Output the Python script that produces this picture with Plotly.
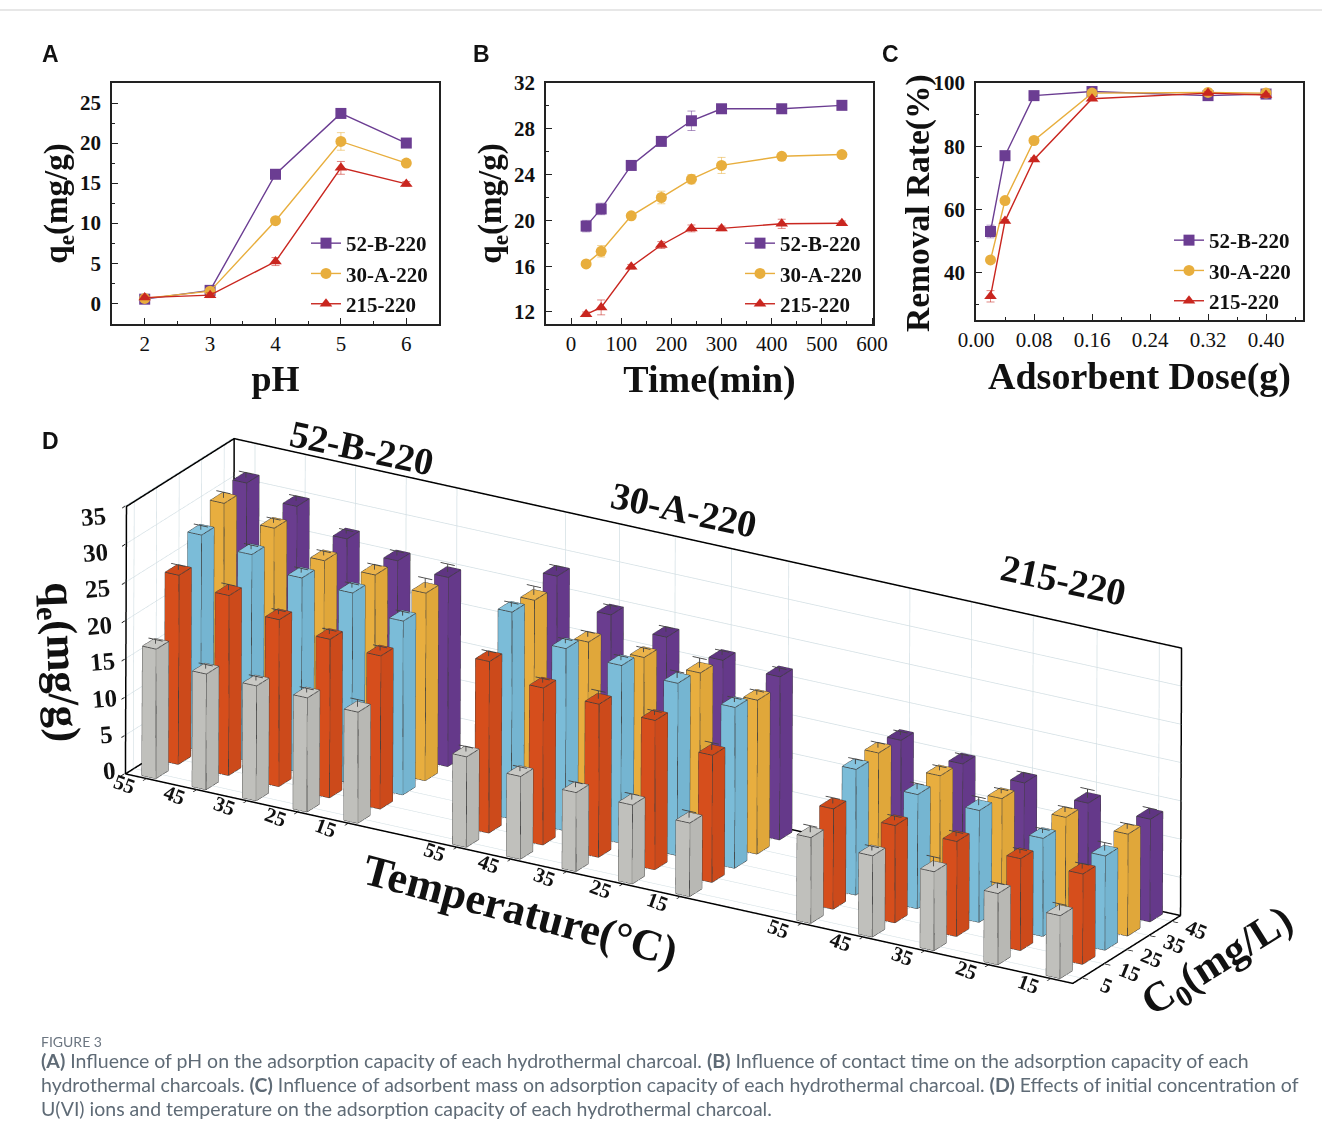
import numpy as np
import plotly.graph_objects as go

W, H = 1322, 1139
SERIF = "Liberation Serif"
SANS = "Liberation Sans"
CAPTION = "Lato"

series_names = ["52-B-220", "30-A-220", "215-220"]
series_colors = ["#6b3d92", "#e8ae3d", "#c9261f"]
series_err_colors = ["rgba(107,61,146,0.55)", "rgba(232,174,61,0.55)", "rgba(201,38,31,0.55)"]
series_symbols = ["square", "circle", "triangle-up"]

ph = [2, 3, 4, 5, 6]
a_52b = [0.5, 1.6, 16.1, 23.7, 20.0]
a_30a = [0.6, 1.5, 10.3, 20.2, 17.5]
a_215 = [0.7, 1.0, 5.2, 16.9, 14.9]
a_52b_err = [0.3, 0.2, 0.3, 0.3, 0.2]
a_30a_err = [0.2, 0.3, 0.3, 1.1, 0.2]
a_215_err = [0.2, 0.3, 0.5, 0.8, 0.3]

time_min = [30, 60, 120, 180, 240, 300, 420, 540]
b_52b = [19.5, 21.0, 24.8, 26.9, 28.7, 29.75, 29.75, 30.05]
b_30a = [16.2, 17.3, 20.4, 22.0, 23.6, 24.8, 25.6, 25.75]
b_215 = [11.8, 12.4, 15.95, 17.85, 19.3, 19.3, 19.7, 19.75]
b_52b_err = [0.5, 0.5, 0.2, 0.3, 0.85, 0.2, 0.2, 0.2]
b_30a_err = [0.2, 0.5, 0.2, 0.55, 0.4, 0.7, 0.2, 0.2]
b_215_err = [0.2, 0.65, 0.2, 0.3, 0.3, 0.2, 0.4, 0.2]

dose = [0.02, 0.04, 0.08, 0.16, 0.32, 0.40]
c_52b = [53.0, 77.0, 96.0, 97.3, 96.0, 96.5]
c_30a = [44.0, 62.8, 81.8, 96.8, 97.0, 96.8]
c_215 = [32.5, 56.3, 75.8, 95.0, 96.8, 96.2]
c_52b_err = [2.0, 0.5, 0.5, 0.5, 0.5, 0.5]
c_30a_err = [0.5, 0.5, 0.5, 0.5, 0.5, 0.5]
c_215_err = [1.8, 0.5, 0.5, 0.5, 0.5, 0.5]

temperatures = [55, 45, 35, 25, 15]
concentrations = [5, 15, 25, 35, 45]
conc_colors = ["#c0c0bc", "#d64e1c", "#7bbcd8", "#e8ae3f", "#6a3d8f"]
conc_side = ["#b8b8b4", "#cc4a1b", "#75b5d1", "#e0a73a", "#65398a"]
conc_top = ["#c9c9c5", "#cf4a1a", "#86c4de", "#ebb34a", "#5f3582"]

# rows = concentration, columns = temperature
q_52b = [[16.9, 15.1, 15.0, 14.9, 14.5],
         [24.7, 23.5, 21.8, 20.7, 20.0],
         [28.1, 27.0, 25.4, 24.9, 22.7],
         [30.4, 28.6, 25.8, 25.4, 24.5],
         [31.2, 29.6, 26.8, 25.4, 24.7]]
q_30a = [[11.8, 10.8, 10.3, 10.3, 9.6],
         [22.4, 20.5, 20.0, 19.5, 16.6],
         [27.0, 23.8, 23.2, 22.5, 21.0],
         [26.7, 22.8, 22.4, 22.0, 20.1],
         [28.0, 24.5, 23.2, 21.8, 21.3]]
q_215 = [[11.2, 10.6, 10.3, 9.3, 8.2],
         [13.1, 12.7, 12.4, 12.0, 11.8],
         [16.4, 14.9, 14.6, 12.8, 12.3],
         [16.7, 15.5, 14.3, 13.7, 13.3],
         [16.5, 15.2, 14.5, 13.7, 13.4]]
e_52b = [[.2, .2, .2, .2, .6], [.3, .4, .2, .2, .2], [.2, .2, .2, .2, .2], [.4, .2, .2, .3, .9], [.3, .3, .1, .2, .7]]
e_30a = [[.3, .2, .3, .4, .5], [.3, .2, .7, .2, .6], [.2, .2, .2, .5, .2], [.8, .3, .2, .9, .2], [.3, .2, .3, .2, .1]]
e_215 = [[.5, .2, .9, .3, .5], [.4, .2, .2, .2, .3], [.3, .4, .7, .2, .7], [.3, .2, .2, .3, .3], [.1, .2, .3, .8, .4]]

# position of each temperature slot along the 3D x axis, one row per material
slots_52b = [-0.10, 0.82, 1.74, 2.67, 3.60]
slots_30a = [5.59, 6.58, 7.60, 8.63, 9.68]
slots_215 = [11.90, 13.03, 14.16, 15.33, 16.47]

caption_head = "FIGURE 3"
caption_lines = [
    "<b>(A)</b> Influence of pH on the adsorption capacity of each hydrothermal charcoal. <b>(B)</b> Influence of contact time on the adsorption capacity of each",
    "hydrothermal charcoals. <b>(C)</b> Influence of adsorbent mass on adsorption capacity of each hydrothermal charcoal. <b>(D)</b> Effects of initial concentration of",
    "U(VI) ions and temperature on the adsorption capacity of each hydrothermal charcoal.",
]


def px(x):
    return x / W


def py(y):
    return 1 - y / H


fig = go.Figure()

panels = [
    ("x", "y", "legend", ph, [a_52b, a_30a, a_215], [a_52b_err, a_30a_err, a_215_err]),
    ("x2", "y2", "legend2", time_min, [b_52b, b_30a, b_215], [b_52b_err, b_30a_err, b_215_err]),
    ("x3", "y3", "legend3", dose, [c_52b, c_30a, c_215], [c_52b_err, c_30a_err, c_215_err]),
]
for xa, ya, leg, xs, ys, errs in panels:
    for i, name in enumerate(series_names):
        fig.add_trace(go.Scatter(
            x=xs, y=ys[i], name=name, xaxis=xa, yaxis=ya, legend=leg, mode="lines+markers",
            line=dict(color=series_colors[i], width=1.4),
            marker=dict(color=series_colors[i], symbol=series_symbols[i], size=11),
            error_y=dict(type="data", array=errs[i], color=series_err_colors[i], width=4, thickness=1),
            hoverinfo="skip",
        ))

# ---------- panel D: 3D bars ----------
bar_dx, bar_dy = 0.127, 5.5
x_range = [-0.5, 16.9]
y_range = [1.0, 49.0]
z_range = [0, 35]
groups_slots = [slots_52b, slots_30a, slots_215]
x_ticks = [s for row in groups_slots for s in row]
groups_q = [q_52b, q_30a, q_215]
groups_e = [e_52b, e_30a, e_215]

edge_x, edge_y, edge_z = [], [], []
err_x, err_y, err_z = [], [], []


def seg(ax, ay, az, p, q):
    ax += [p[0], q[0], None]
    ay += [p[1], q[1], None]
    az += [p[2], q[2], None]


for ci, conc in enumerate(concentrations):
    vx, vy, vz, fi, fj, fk, fc = [], [], [], [], [], [], []
    for g, slots in enumerate(groups_slots):
        for t in range(5):
            h = groups_q[g][ci][t]
            e = groups_e[g][ci][t]
            xc = slots[t]
            x1, x2 = xc - bar_dx, xc + bar_dx
            y1, y2 = conc - bar_dy / 2, conc + bar_dy / 2
            n = len(vx)
            vx += [x1, x2, x2, x1, x1, x2, x2, x1]
            vy += [y1, y1, y2, y2, y1, y1, y2, y2]
            vz += [0, 0, 0, 0, h, h, h, h]
            quads = [((0, 1, 5, 4), conc_colors[ci]), ((1, 2, 6, 5), conc_side[ci]),
                     ((4, 5, 6, 7), conc_top[ci]), ((0, 3, 7, 4), conc_colors[ci]),
                     ((3, 2, 6, 7), conc_colors[ci])]
            for (a, b, c, d), col in quads:
                fi += [n + a, n + a]
                fj += [n + b, n + c]
                fk += [n + c, n + d]
                fc += [col, col]
            pts = [(x1, y1, 0), (x2, y1, 0), (x2, y2, 0), (x1, y2, 0), (x1, y1, h), (x2, y1, h), (x2, y2, h), (x1, y2, h)]
            for a, b in [(0, 1), (1, 2), (4, 5), (5, 6), (6, 7), (7, 4), (0, 4), (1, 5), (2, 6), (3, 7), (2, 3), (3, 0)]:
                seg(edge_x, edge_y, edge_z, pts[a], pts[b])
            seg(err_x, err_y, err_z, (xc, conc, h), (xc, conc, h + e + 0.35))
            seg(err_x, err_y, err_z, (xc - 0.13, conc, h + e + 0.35), (xc + 0.13, conc, h + e + 0.35))
    fig.add_trace(go.Mesh3d(x=vx, y=vy, z=vz, i=fi, j=fj, k=fk, facecolor=fc, flatshading=True,
                            lighting=dict(ambient=1, diffuse=0, specular=0, roughness=1, fresnel=0),
                            hoverinfo="skip", showlegend=False, scene="scene"))

fig.add_trace(go.Scatter3d(x=edge_x, y=edge_y, z=edge_z, mode="lines", line=dict(color="#3d3d3d", width=1.6),
                           hoverinfo="skip", showlegend=False, scene="scene"))
fig.add_trace(go.Scatter3d(x=err_x, y=err_y, z=err_z, mode="lines", line=dict(color="#444444", width=1.8),
                           hoverinfo="skip", showlegend=False, scene="scene"))

# box frame, held a hair inside the axis ranges so the clip bounds do not eat it
x0, x1 = x_range[0] + 0.02, x_range[1] - 0.02
y0, y1 = y_range[0] + 0.06, y_range[1] - 0.06
z0, z1 = z_range[0] + 0.03, z_range[1] - 0.03
frame_x = [x0, x1, x1, x0, x0, x0, x0, x1, x1, None, x0, x0]
frame_y = [y0, y0, y1, y1, y0, y0, y1, y1, y1, None, y1, y1]
frame_z = [z0, z0, z0, z0, z0, z1, z1, z1, z0, None, z0, z1]
fig.add_trace(go.Scatter3d(x=frame_x, y=frame_y, z=frame_z, mode="lines", line=dict(color="#000000", width=3),
                           connectgaps=False, hoverinfo="skip", showlegend=False, scene="scene"))

view_dir = np.array([0.4688, -0.8016, 0.3714])
eye = view_dir * 2.875
up = [-0.1907, 0.3186, 0.9286]
axis3d = dict(showbackground=False, showline=False, zeroline=False, showticklabels=False, title=dict(text=""),
              showspikes=False, gridcolor="#d3dfe4", gridwidth=1.5, ticks="outside", ticklen=6, tickcolor="#111111", tickwidth=2)

scene_ann = []
ann3 = dict(showarrow=False, font=dict(family=SERIF, size=21, color="#111", weight="bold"))
for slots in groups_slots:
    for t, temp in enumerate(temperatures):
        scene_ann.append(dict(x=slots[t], y=y_range[0], z=0, text=str(temp), textangle=20, xshift=-22, yshift=-5, **ann3))
for c in concentrations:
    scene_ann.append(dict(x=x_range[1], y=c, z=0, text=str(c), textangle=22, xshift=24, yshift=-8, **ann3))
for v in range(0, 36, 5):
    scene_ann.append(dict(x=x_range[0], y=y_range[0], z=v, text=str(v), textangle=-5,
                          xshift=-15 - v * 0.49, yshift=3 - v * 0.37,
                          showarrow=False, font=dict(family=SERIF, size=25, color="#111", weight="bold")))

fig.update_layout(
    width=W, height=H, margin=dict(l=0, r=0, t=0, b=0, autoexpand=False), paper_bgcolor="white", plot_bgcolor="white",
    hovermode=False,
    scene=dict(
        domain=dict(x=[0, px(1307)], y=[py(1026), py(396)]),
        aspectmode="manual", aspectratio=dict(x=3.495, y=0.6775, z=0.916),
        camera=dict(eye=dict(x=float(eye[0]), y=float(eye[1]), z=float(eye[2])),
                    up=dict(x=up[0], y=up[1], z=up[2]), center=dict(x=0, y=0, z=0),
                    projection=dict(type="orthographic")),
        xaxis=dict(range=x_range, tickvals=x_ticks, **axis3d),
        yaxis=dict(range=y_range, tickvals=concentrations, **axis3d),
        zaxis=dict(range=z_range, tickvals=list(range(0, 36, 5)), **axis3d),
        annotations=scene_ann,
    ),
)

tick_y = dict(family=SERIF, size=21, color="#111", weight="bold")
tick_x = dict(family=SERIF, size=21, color="#111")
title_font = dict(family=SERIF, size=38, color="#111", weight="bold")
common = dict(showline=True, linecolor="#222", linewidth=1.5, mirror=True, ticks="inside", tickcolor="#222",
              ticklen=6, tickwidth=1.3, showgrid=False, zeroline=False)


def minor(dtick):
    return dict(ticks="inside", ticklen=3.5, tickcolor="#222", tickwidth=1.1, dtick=dtick, showgrid=False)


fig.update_layout(
    xaxis=dict(domain=[px(112), px(439)], anchor="y", range=[1.5, 6.5], tickvals=ph, tickfont=tick_x, ticklabelstandoff=0,
               title=dict(text="pH", font=dict(family=SERIF, size=36, color="#111", weight="bold"), standoff=11), minor=minor(0.5), **common),
    yaxis=dict(domain=[py(324), py(83)], anchor="x", range=[-2.6, 27.5], dtick=5, tickfont=tick_y, ticklabelstandoff=5,
               title=dict(text="q<sub>e</sub>(mg/g)", font=dict(family=SERIF, size=33, color="#111", weight="bold"), standoff=2),
               minor=minor(2.5), **common),
    xaxis2=dict(domain=[px(546), px(873)], anchor="y2", range=[-50, 602], dtick=100, tickfont=tick_x, ticklabelstandoff=0,
                title=dict(text="Time(min)", font=title_font, standoff=10), minor=minor(50), **common),
    yaxis2=dict(domain=[py(324), py(83)], anchor="x2", range=[10.95, 32], dtick=4, tick0=0, tickfont=tick_y, ticklabelstandoff=5,
                title=dict(text="q<sub>e</sub>(mg/g)", font=dict(family=SERIF, size=33, color="#111", weight="bold"), standoff=2),
                minor=minor(2), **common),
    xaxis3=dict(domain=[px(976), px(1303)], anchor="y3", range=[0, 0.451], dtick=0.08, tickformat=".2f", tickfont=tick_x, ticklabelstandoff=0,
                title=dict(text="Adsorbent Dose(g)", font=title_font, standoff=11), minor=minor(0.04), **common),
    yaxis3=dict(domain=[py(320), py(83)], anchor="x3", range=[25, 100], dtick=20, tick0=0, tickfont=tick_y, ticklabelstandoff=5,
                minor=minor(10), **common),
)
legend_common = dict(font=dict(family=SERIF, size=21, color="#111", weight="bold"), bgcolor="rgba(0,0,0,0)",
                     itemwidth=30, xanchor="left", yanchor="top", tracegroupgap=0)
fig.update_layout(
    legend=dict(x=px(306), y=py(223), **legend_common),
    legend2=dict(x=px(740), y=py(223), **legend_common),
    legend3=dict(x=px(1169), y=py(220), **legend_common),
)

anns = []


def note(x, y, text, size, family=SERIF, color="#111", angle=0, weight="bold", xanchor="center"):
    anns.append(dict(xref="paper", yref="paper", x=px(x), y=py(y), text=text, showarrow=False, textangle=angle,
                     xanchor=xanchor, yanchor="middle", font=dict(family=family, size=size, color=color, weight=weight)))


for letter, x, y in [("A", 50, 54), ("B", 481, 54), ("C", 890, 54), ("D", 50, 441)]:
    note(x, y, letter, 23, family=SANS)
note(918, 203, "Removal Rate(%)", 33.5, angle=-90)
note(362, 448, "52-B-220", 38, angle=12)
note(684, 510, "30-A-220", 38, angle=12)
note(1063, 580, "215-220", 38, angle=12)
note(60, 662, "q<sub>e</sub>(mg/g)", 44, angle=88)
note(520, 910, "Temperature(°C)", 44, angle=15)
note(1218, 963, "C<sub>0</sub>(mg/L)", 42, angle=-32)
note(39, 1041, caption_head, 14, family=CAPTION, color="#6b7580", weight="normal", xanchor="left")
for i, line in enumerate(caption_lines):
    note(39, 1060 + 24 * i, line, 19.5, family=CAPTION, color="#5f6b76", weight="normal", xanchor="left")

fig.update_layout(annotations=anns,
                  shapes=[dict(type="line", xref="paper", yref="paper", x0=0, x1=1, y0=py(10), y1=py(10),
                               line=dict(color="#cfcfcf", width=1))])

fig.write_html("out.html", config=dict(displayModeBar=False),
               post_script="document.body.style.margin='0';document.body.style.overflow='hidden';")
